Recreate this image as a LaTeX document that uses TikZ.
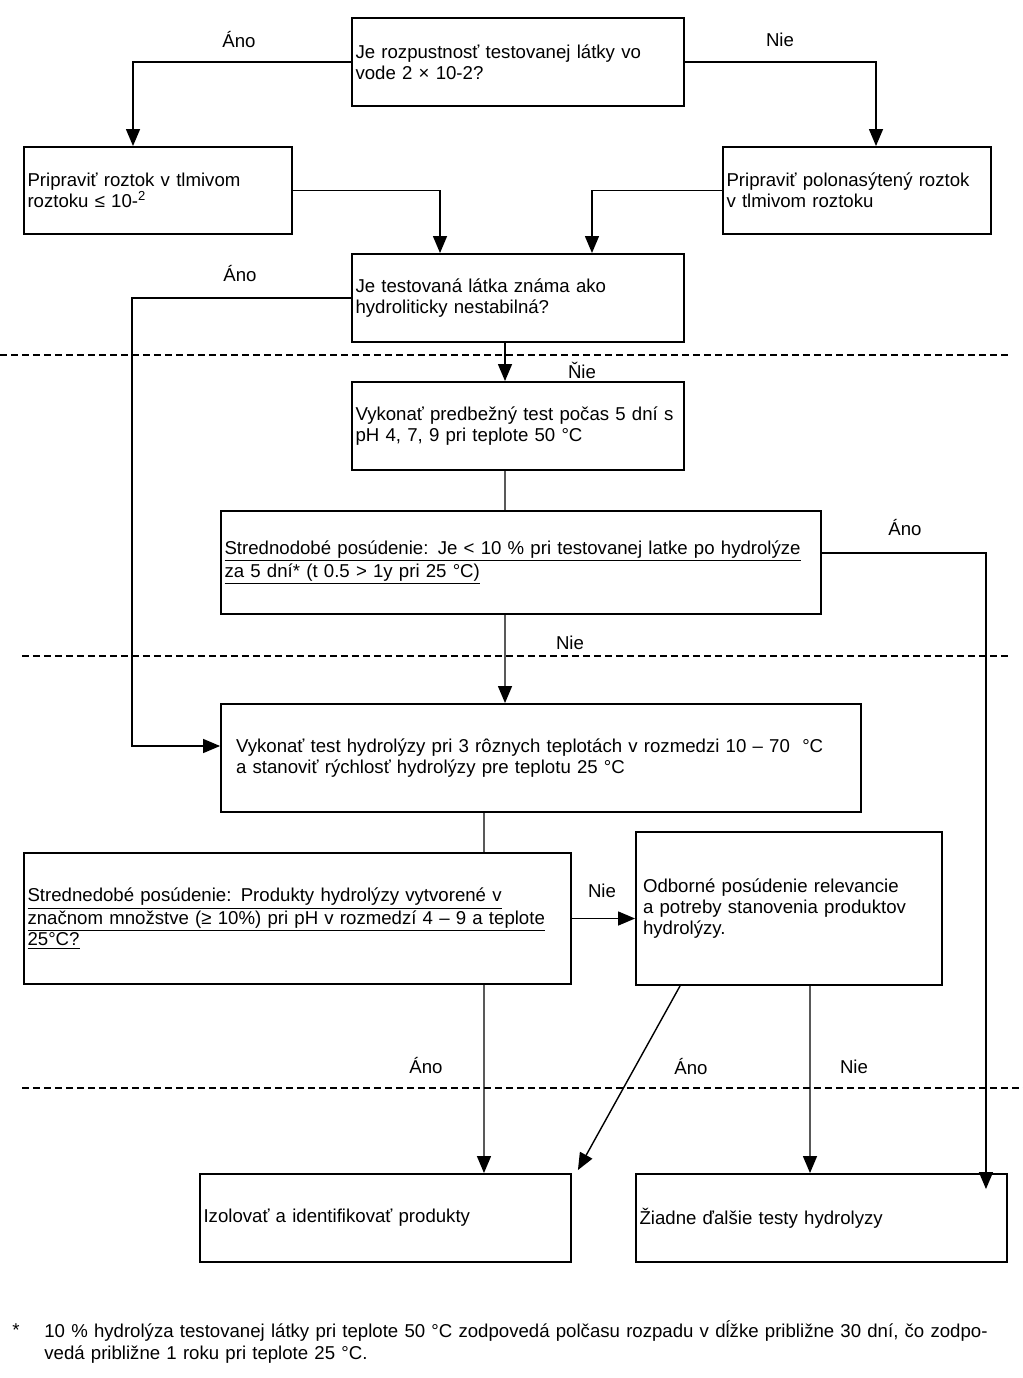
\documentclass[tikz,border=0pt]{standalone}
\usepackage{fontspec}
\setmainfont{Liberation Sans}
\usetikzlibrary{arrows.meta, positioning}

\begin{document}
\begin{tikzpicture}[
    x=0.02cm, y=-0.02cm,
    every node/.style={font=\fontsize{10.6}{12}\selectfont},
    stepbox/.style={rectangle, draw, line width=1.1pt, align=left, inner xsep=0.07cm, inner ysep=0pt},
    answer/.style={inner sep=0pt},
    link/.style={line width=0.8pt},
    arr/.style={link, -{Triangle[length=0.34cm, width=0.28cm]}},
    divider/.style={line width=1pt, dash pattern=on 0.14cm off 0.08cm}
]
\useasboundingbox (0,0) rectangle (1023,1378);

% Questions and steps
\node[stepbox, text width=6.5cm, minimum height=1.76cm] (solq) at (518,62)
    {Je rozpustnosť testovanej látky vo\\ vode 2 × 10-2?};
\node[stepbox, text width=5.22cm, minimum height=1.74cm] (prepbuf) at (158,190.5)
    {Pripraviť roztok v tlmivom\\ roztoku ≤ 10-\textsuperscript{2}};
\node[stepbox, text width=5.22cm, minimum height=1.74cm] (prepsat) at (857,190.5)
    {Pripraviť polonasýtený roztok\\ v tlmivom roztoku};
\node[stepbox, text width=6.5cm, minimum height=1.76cm] (stabq) at (518,298)
    {Je testovaná látka známa ako\\ hydroliticky nestabilná?};
\node[stepbox, text width=6.5cm, minimum height=1.76cm] (pretest) at (518,426)
    {Vykonať predbežný test počas 5 dní s\\ pH 4, 7, 9 pri teplote 50 °C};
\node[stepbox, text width=11.86cm, minimum height=2.06cm] (midq) at (521,562.5)
    {\underline{Strednodobé posúdenie: Je < 10 \% pri testovanej latke po hydrolýze}\\
     \underline{za 5 dní* (t 0.5 > 1y pri 25 °C)}};
\node[stepbox, text width=12.2cm, inner xsep=0.3cm, minimum height=2.16cm] (hydtest) at (541,758)
    {Vykonať test hydrolýzy pri 3 rôznych teplotách v rozmedzi 10 – 70 \ °C\\
     a stanoviť rýchlosť hydrolýzy pre teplotu 25 °C};
\node[stepbox, text width=10.8cm, minimum height=2.62cm] (prodq) at (297.5,918.5)
    {\underline{Strednedobé posúdenie: Produkty hydrolýzy vytvorené v}\\
     \underline{značnom množstve (≥ 10\%) pri pH v rozmedzí 4 – 9 a teplote}\\
     \underline{25°C?}};
\node[stepbox, text width=5.84cm, inner xsep=0.14cm, minimum height=3.06cm] (expert) at (789,908.5)
    {Odborné posúdenie relevancie\\ a potreby stanovenia produktov\\ hydrolýzy.};
\node[stepbox, text width=7.28cm, minimum height=1.76cm] (isolate) at (385.5,1218)
    {Izolovať a identifikovať produkty};
\node[stepbox, text width=7.28cm, minimum height=1.76cm] (notest) at (821.5,1218)
    {\raisebox{-0.1cm}{Žiadne ďalšie testy hydrolyzy}};

% Answers
\node[answer] (yes1) at (239,40) {Áno};
\node[answer] (no1) at (780,40) {Nie};
\node[answer] (yes2) at (240,274) {Áno};
\node[answer] (no2) at (582,370) {Ňie};
\node[answer] (yes3) at (905,528) {Áno};
\node[answer] (no3) at (570,643) {Nie};
\node[answer] (no4) at (602,891) {Nie};
\node[answer] (yes4) at (426,1066) {Áno};
\node[answer] (yes5) at (691,1067) {Áno};
\node[answer] (no5) at (854,1067) {Nie};

% Connections
\draw[arr] (solq.west) -| ([xshift=-0.5cm]prepbuf.north);
\draw[arr] (solq.east) -| ([xshift=0.38cm]prepsat.north);
\draw[arr] (prepbuf.east) -| ([xshift=-1.56cm]stabq.north);
\draw[arr] (prepsat.west) -| ([xshift=1.48cm]stabq.north);
\draw[arr] (stabq.west) -| ([xshift=-1.76cm,yshift=0.24cm]hydtest.west) -- ([yshift=0.24cm]hydtest.west);
\draw[arr] ([xshift=-0.26cm]stabq.south) -- ([xshift=-0.26cm]pretest.north);
\draw[link] ([xshift=-0.26cm]pretest.south) -- ([xshift=-0.32cm]midq.north);
\draw[arr] ([xshift=-0.32cm]midq.south) -- ([xshift=-0.72cm]hydtest.north);
\draw[arr, shorten >=-0.32cm] ([yshift=0.19cm]midq.east) -| ([xshift=3.29cm]notest.north);
\draw[link] ([xshift=-1.14cm]hydtest.south) -- ([xshift=3.73cm]prodq.north);
\draw[arr] (prodq.east) -- (prodq.east -| expert.west);
\draw[arr] ([xshift=3.73cm]prodq.south) -- ([xshift=1.97cm]isolate.north);
\draw[arr] ([xshift=-2.18cm]expert.south) -- ([xshift=0.12cm,yshift=0.06cm]isolate.north east);
\draw[arr] ([xshift=0.42cm]expert.south) -- ([xshift=-0.23cm]notest.north);

% Phase separators
\draw[divider] (0,355) -- (1010,355);
\draw[divider] (22,656) -- (1010,656);
\draw[divider] (22,1088) -- (1023,1088);

% Footnote
\node[answer] (star) at (16,1330) {*};
\node[answer, anchor=west, text width=19.6cm, align=left] (footnote) at (44,1342)
    {10 \% hydrolýza testovanej látky pri teplote 50 °C zodpovedá polčasu rozpadu v dĺžke približne 30 dní, čo zodpo-\\
     vedá približne 1 roku pri teplote 25 °C.};

\end{tikzpicture}
\end{document}
